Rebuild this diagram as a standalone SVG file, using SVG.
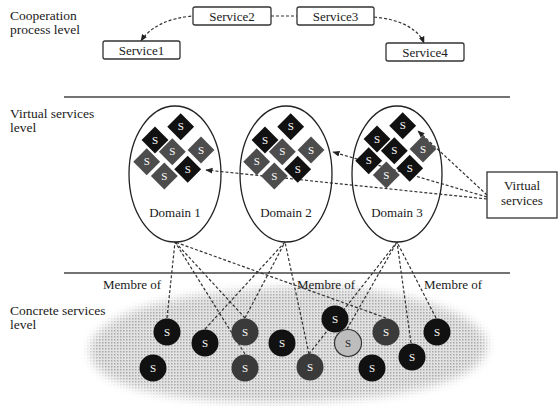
<svg xmlns="http://www.w3.org/2000/svg" width="558" height="406" viewBox="0 0 558 406" font-family="Liberation Serif, Times New Roman, serif">
<style>
text{font-family:"Liberation Serif","Times New Roman",serif}
.lbl{font-size:13.5px;fill:#1a1a1a}
.t{font-size:13px;fill:#1a1a1a}
.box{fill:#fff;stroke:#333;stroke-width:1.3}
.dash{fill:none;stroke:#333;stroke-width:1.2;stroke-dasharray:3 2}
.sep{stroke:#444;stroke-width:1.6}
.ell{fill:none;stroke:#222;stroke-width:1.3}
.dk{fill:#111}
.gy{fill:#4d4d4d}
.s{font-size:11px;fill:#fff;text-anchor:middle}
.sd{font-size:11px;fill:#222;text-anchor:middle}
</style>
<defs>
<rect id="dia" x="-9.5" y="-9.5" width="19" height="19" transform="rotate(45)"/>
<marker id="ah" viewBox="0 0 10 10" refX="9" refY="5" markerWidth="6" markerHeight="6" orient="auto-start-reverse">
<path d="M0,1 L10,5 L0,9 Z" fill="#222"/>
</marker>
<filter id="blur" x="-10%" y="-20%" width="120%" height="140%"><feGaussianBlur stdDeviation="5"/></filter>
<pattern id="dots" width="3" height="3" patternUnits="userSpaceOnUse"><rect width="3" height="3" fill="#e2e2e2"/><rect width="1.5" height="1.5" fill="#a8a8a8"/></pattern>
<mask id="cm"><path d="M90,352 C88,322 150,300 210,294 C260,289 310,283 365,290 C425,297 487,318 487,345 C487,372 440,386 400,393 C340,403 260,405 200,399 C140,393 92,380 90,352 Z" fill="#fff" filter="url(#blur)"/></mask>
</defs>

<!-- level labels -->
<text class="lbl" x="10" y="20">Cooperation</text>
<text class="lbl" x="10" y="34">process level</text>
<text class="lbl" x="10" y="118">Virtual services</text>
<text class="lbl" x="10" y="132">level</text>
<text class="lbl" x="10" y="315">Concrete services</text>
<text class="lbl" x="10" y="329">level</text>

<line class="sep" x1="64" y1="97" x2="510" y2="97"/>
<line class="sep" x1="64" y1="273" x2="510" y2="273"/>

<!-- cloud -->
<rect x="70" y="270" width="440" height="136" fill="url(#dots)" mask="url(#cm)"/>

<!-- connectors -->
<g id="connectors">
<path class="dash" d="M141,41 C150,27 168,18 193,16" marker-start="url(#ah)"/>
<path class="dash" d="M271,16 L297,16"/>
<path class="dash" d="M374,17 C398,19 418,28 424,43" marker-end="url(#ah)"/>
<path class="dash" d="M487,199 L206,170" marker-end="url(#ah)"/>
<path class="dash" d="M487,197 L333,152" marker-end="url(#ah)"/>
<path class="dash" d="M487,195 L418,131" marker-end="url(#ah)"/>
<path class="dash" d="M167,318 L175,242"/>
<path class="dash" d="M245,318 L175,242"/>
<path class="dash" d="M245,354 L175,242"/>
<path class="dash" d="M386,318 L175,242"/>
<path class="dash" d="M205,329 L285,242"/>
<path class="dash" d="M245,318 L285,242"/>
<path class="dash" d="M309,354 L285,242"/>
<path class="dash" d="M309,354 L397,242"/>
<path class="dash" d="M347,329 L397,242"/>
<path class="dash" d="M411,343 L397,242"/>
<path class="dash" d="M436,318 L397,242"/>
</g>

<!-- services -->
<g id="service1"><rect class="box" x="103" y="41" width="77" height="18" rx="2"/><text class="t" x="141.5" y="54.5" text-anchor="middle">Service1</text></g>
<g id="service2"><rect class="box" x="193" y="7" width="78" height="18" rx="2"/><text class="t" x="232" y="20.5" text-anchor="middle">Service2</text></g>
<g id="service3"><rect class="box" x="297" y="7" width="77" height="18" rx="2"/><text class="t" x="335.5" y="20.5" text-anchor="middle">Service3</text></g>
<g id="service4"><rect class="box" x="386" y="43" width="78" height="18" rx="2"/><text class="t" x="425" y="56.5" text-anchor="middle">Service4</text></g>

<g id="vs"><rect class="box" x="487" y="172" width="70" height="46"/><text class="t" x="522" y="190" text-anchor="middle">Virtual</text><text class="t" x="522" y="205" text-anchor="middle">services</text></g>

<!-- domains -->
<g id="domain1">
<ellipse class="ell" cx="175" cy="174" rx="46" ry="68"/>
<g transform="translate(180.7,126.7)"><use href="#dia" class="dk"/><text class="s" y="3.5">S</text></g>
<g transform="translate(155,140)"><use href="#dia" class="dk"/><text class="s" y="3.5">S</text></g>
<g transform="translate(172.3,151.7)"><use href="#dia" class="gy"/><text class="s" y="3.5">S</text></g>
<g transform="translate(201,150)"><use href="#dia" class="gy"/><text class="s" y="3.5">S</text></g>
<g transform="translate(146.7,161.7)"><use href="#dia" class="gy"/><text class="s" y="3.5">S</text></g>
<g transform="translate(164.3,176)"><use href="#dia" class="gy"/><text class="s" y="3.5">S</text></g>
<g transform="translate(187.7,169.3)"><use href="#dia" class="dk"/><text class="s" y="3.5">S</text></g>
<text class="t" x="175" y="217" text-anchor="middle">Domain 1</text>
</g>
<g id="domain2">
<ellipse class="ell" cx="286" cy="174" rx="46" ry="68"/>
<g transform="translate(290.7,126.7)"><use href="#dia" class="dk"/><text class="s" y="3.5">S</text></g>
<g transform="translate(265,140)"><use href="#dia" class="dk"/><text class="s" y="3.5">S</text></g>
<g transform="translate(282.3,151.7)"><use href="#dia" class="gy"/><text class="s" y="3.5">S</text></g>
<g transform="translate(311,150)"><use href="#dia" class="gy"/><text class="s" y="3.5">S</text></g>
<g transform="translate(256.7,161.7)"><use href="#dia" class="gy"/><text class="s" y="3.5">S</text></g>
<g transform="translate(274.3,176)"><use href="#dia" class="gy"/><text class="s" y="3.5">S</text></g>
<g transform="translate(297.7,169.3)"><use href="#dia" class="dk"/><text class="s" y="3.5">S</text></g>
<text class="t" x="286" y="217" text-anchor="middle">Domain 2</text>
</g>
<g id="domain3">
<ellipse class="ell" cx="397" cy="174" rx="45" ry="68"/>
<g transform="translate(402.7,125.7)"><use href="#dia" class="dk"/><text class="s" y="3.5">S</text></g>
<g transform="translate(377,139)"><use href="#dia" class="dk"/><text class="s" y="3.5">S</text></g>
<g transform="translate(394.3,150.7)"><use href="#dia" class="dk"/><text class="s" y="3.5">S</text></g>
<g transform="translate(423,149)"><use href="#dia" class="gy"/><text class="s" y="3.5">S</text></g>
<g transform="translate(368.7,160.7)"><use href="#dia" class="dk"/><text class="s" y="3.5">S</text></g>
<g transform="translate(386.3,175)"><use href="#dia" class="gy"/><text class="s" y="3.5">S</text></g>
<g transform="translate(409.7,168.3)"><use href="#dia" class="dk"/><text class="s" y="3.5">S</text></g>
<text class="t" x="397" y="217" text-anchor="middle">Domain 3</text>
</g>

<text class="t" x="103" y="289">Membre of</text>
<text class="t" x="297" y="289">Membre of</text>
<text class="t" x="424" y="289">Membre of</text>

<!-- concrete services -->
<g id="c1"><circle cx="167" cy="332" r="13.5" class="dk"/><text class="s" x="167" y="335.5">S</text></g>
<g id="c2"><circle cx="205" cy="343" r="13.5" class="dk"/><text class="s" x="205" y="346.5">S</text></g>
<g id="c3"><circle cx="245" cy="332" r="13.5" fill="#3a3a3a"/><text class="s" x="245" y="335.5">S</text></g>
<g id="c4"><circle cx="153" cy="368" r="13.5" class="dk"/><text class="s" x="153" y="371.5">S</text></g>
<g id="c5"><circle cx="245" cy="368" r="13.5" fill="#3a3a3a"/><text class="s" x="245" y="371.5">S</text></g>
<g id="c6"><circle cx="282" cy="343" r="13.5" class="dk"/><text class="s" x="282" y="346.5">S</text></g>
<g id="c7"><circle cx="335" cy="319" r="13.5" class="dk"/><text class="s" x="335" y="322.5">S</text></g>
<g id="c8"><circle cx="348" cy="343" r="13.5" fill="#bdbdbd" stroke="#333" stroke-width="1.2"/><text class="sd" x="348" y="346.5">S</text></g>
<g id="c9"><circle cx="310" cy="367" r="13.5" fill="#3a3a3a"/><text class="s" x="310" y="370.5">S</text></g>
<g id="c10"><circle cx="386" cy="332" r="13.5" fill="#3a3a3a"/><text class="s" x="386" y="335.5">S</text></g>
<g id="c11"><circle cx="372" cy="368" r="13.5" class="dk"/><text class="s" x="372" y="371.5">S</text></g>
<g id="c12"><circle cx="412" cy="357" r="13.5" class="dk"/><text class="s" x="412" y="360.5">S</text></g>
<g id="c13"><circle cx="437" cy="332" r="13.5" class="dk"/><text class="s" x="437" y="335.5">S</text></g>
</svg>
